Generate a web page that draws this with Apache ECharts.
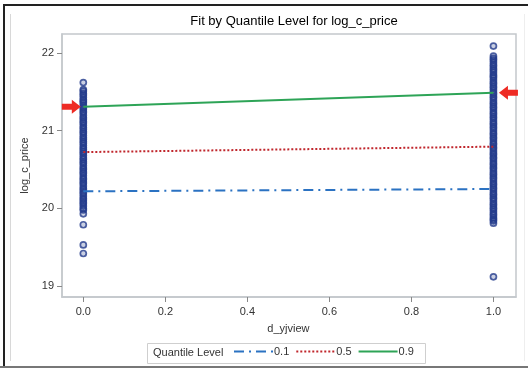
<!DOCTYPE html>
<html>
<head>
<meta charset="utf-8">
<script src="https://cdn.jsdelivr.net/npm/echarts@6/dist/echarts.min.js"></script>
<style>
  html, body { margin: 0; padding: 0; background: #fff; }
  #chart { width: 528px; height: 368px; }
</style>
</head>
<body>
<div id="chart"></div>
<script>
// tick labels
const xTicks = [0, 0.2, 0.4, 0.6, 0.8, 1.0]
const yTicks = [19, 20, 21, 22]

// observed log_c_price at d_yjview = 0
const obsAt0 = [21.62, 21.53, 21.51, 21.48, 21.46, 21.43, 21.40, 21.38, 21.36, 21.33, 21.30,
  21.28, 21.25, 21.23, 21.20, 21.17, 21.15, 21.12, 21.10, 21.07, 21.04, 21.02, 20.99, 20.97,
  20.94, 20.91, 20.89, 20.86, 20.84, 20.81, 20.78, 20.76, 20.73, 20.71, 20.68, 20.65, 20.63,
  20.60, 20.58, 20.55, 20.52, 20.50, 20.47, 20.45, 20.42, 20.39, 20.37, 20.34, 20.32, 20.29,
  20.26, 20.24, 20.21, 20.19, 20.16, 20.13, 20.11, 20.08, 20.06, 20.03, 20.00, 19.98,
  19.93, 19.79, 19.53, 19.42]

// observed log_c_price at d_yjview = 1
const obsAt1 = [22.09, 21.96, 21.93, 21.91, 21.88, 21.85, 21.83, 21.80, 21.78, 21.75, 21.72,
  21.70, 21.68, 21.65, 21.62, 21.60, 21.57, 21.55, 21.52, 21.49, 21.47, 21.44, 21.42, 21.39,
  21.36, 21.34, 21.31, 21.29, 21.26, 21.23, 21.21, 21.18, 21.16, 21.13, 21.10, 21.08, 21.05,
  21.03, 21.00, 20.97, 20.95, 20.92, 20.90, 20.87, 20.84, 20.82, 20.79, 20.77, 20.74, 20.71,
  20.69, 20.66, 20.64, 20.61, 20.58, 20.56, 20.53, 20.51, 20.48, 20.45, 20.43, 20.40, 20.38,
  20.35, 20.32, 20.30, 20.27, 20.25, 20.22, 20.19, 20.17, 20.14, 20.12, 20.09, 20.06, 20.04,
  20.01, 19.99, 19.96, 19.93, 19.91, 19.88, 19.86, 19.84, 19.81, 19.12]

// fitted quantile lines (value at x=0, x=1)
const q10 = [20.22, 20.25]
const q50 = [20.725, 20.795]
const q90 = [21.31, 21.49]

const scatterData = obsAt0.map(v => [0, v]).concat(obsAt1.map(v => [1, v]))

const font = 'Liberation Sans, Arial, sans-serif'
const arrowPath = 'path://M0,4 L10,4 L10,0 L19,7 L10,14 L10,10 L0,10 Z'
const frameColor = '#c4c8cc'

// plot frame in px and x range padding (SAS pads the data range)
const plotLeft = 62, plotRight = 516, plotTop = 34, plotBottom = 297
const xMin = -0.052, xMax = 1.055
const yMin = 18.86, yMax = 22.245
const pxPerUnit = (plotRight - plotLeft) / (xMax - xMin)
const tickLen = 5

const chart = echarts.init(document.getElementById('chart'))

const decorations = [
  { type: 'rect', shape: { x: 4, y: 5, width: 540, height: 400 }, style: { fill: 'none', stroke: '#222', lineWidth: 2 }, silent: true },
  { type: 'line', shape: { x1: 0, y1: 367, x2: 528, y2: 367 }, style: { stroke: '#777', lineWidth: 2 }, silent: true },
  { type: 'line', shape: { x1: 10.5, y1: 14, x2: 10.5, y2: 361 }, style: { stroke: '#d8d8d8', lineWidth: 1 }, silent: true },
  { type: 'line', shape: { x1: 524.5, y1: 14, x2: 524.5, y2: 361 }, style: { stroke: '#eeeeee', lineWidth: 1 }, silent: true },
  { type: 'rect', shape: { x: 147.5, y: 343.5, width: 278, height: 20 }, style: { fill: '#fff', stroke: '#cfcfcf', lineWidth: 1 }, silent: true, z: -1 },
  { type: 'text', left: 153, top: 347, style: { text: 'Quantile Level', font: '11px ' + font, fill: '#333' }, silent: true }
]

const option = {
  animation: false,
  title: {
    text: 'Fit by Quantile Level for log_c_price',
    left: 289,
    textAlign: 'center',
    top: 10,
    textStyle: { fontFamily: font, fontSize: 13, fontWeight: 'normal', color: '#000' }
  },
  grid: [
    {
      left: plotLeft,
      right: 528 - plotRight,
      top: plotTop,
      bottom: 368 - plotBottom,
      show: true,
      borderColor: frameColor,
      borderWidth: 1.5
    },
    {
      // same height, spanning exactly 0..1 — carries the x labels
      left: plotLeft - xMin * pxPerUnit,
      right: 528 - (plotLeft + (1 - xMin) * pxPerUnit),
      top: plotTop,
      bottom: 368 - plotBottom,
      show: false
    }
  ],
  xAxis: [
    {
      type: 'value',
      gridIndex: 0,
      min: xMin,
      max: xMax,
      axisLine: { show: true, onZero: false, lineStyle: { color: frameColor, width: 1.5 } },
      axisTick: { show: false },
      axisLabel: { show: false },
      splitLine: { show: false }
    },
    {
      type: 'value',
      gridIndex: 1,
      min: xTicks[0],
      max: xTicks[xTicks.length - 1],
      interval: 0.2,
      name: 'd_yjview',
      nameLocation: 'middle',
      nameGap: 26,
      nameTextStyle: { fontFamily: font, fontSize: 11, color: '#333' },
      axisLine: { show: false, onZero: false },
      axisTick: { show: false },
      axisLabel: {
        margin: 9,
        fontFamily: font,
        fontSize: 11,
        color: '#333',
        formatter: v => v.toFixed(1)
      },
      splitLine: { show: false }
    }
  ],
  yAxis: [
    {
      type: 'value',
      gridIndex: 0,
      min: yMin,
      max: yMax,
      name: 'log_c_price',
      nameLocation: 'middle',
      nameGap: 22,
      nameTextStyle: { fontFamily: font, fontSize: 11, color: '#333' },
      axisLine: { show: true, onZero: false, lineStyle: { color: frameColor, width: 1.5 } },
      axisTick: { show: true, customValues: yTicks, length: tickLen, lineStyle: { color: '#888' } },
      axisLabel: {
        customValues: yTicks,
        margin: 8,
        fontFamily: font,
        fontSize: 11,
        color: '#333'
      },
      splitLine: { show: false }
    },
    {
      type: 'value',
      gridIndex: 1,
      min: 0,
      max: 1,
      axisLine: { show: false },
      axisTick: { show: false },
      axisLabel: { show: false },
      splitLine: { show: false }
    }
  ],
  legend: {
    data: ['0.1', '0.5', '0.9'],
    left: 233,
    top: 346,
    itemWidth: 39,
    itemHeight: 10,
    itemGap: 6,
    padding: 0,
    itemStyle: { opacity: 0 },
    textStyle: { fontFamily: font, fontSize: 11, color: '#333', padding: [0, 0, 0, -4] }
  },
  graphic: decorations,
  series: [
    {
      name: 'obs',
      type: 'scatter',
      data: scatterData,
      symbol: 'circle',
      symbolSize: 6,
      itemStyle: { color: 'rgba(36,60,140,0.3)', borderColor: '#243c8c', borderWidth: 1.7 },
      z: 2
    },
    {
      name: '0.1',
      type: 'line',
      data: [[0, q10[0]], [1, q10[1]]],
      symbol: 'none',
      itemStyle: { color: '#2b72c2' },
      lineStyle: { color: '#2b72c2', width: 2, type: [10, 5, 2, 5] },
      z: 3
    },
    {
      name: '0.5',
      type: 'line',
      data: [[0, q50[0]], [1, q50[1]]],
      symbol: 'none',
      itemStyle: { color: '#c0262c' },
      lineStyle: { color: '#c0262c', width: 2, type: [2, 2] },
      z: 3
    },
    {
      name: '0.9',
      type: 'line',
      data: [[0, q90[0]], [1, q90[1]]],
      symbol: 'none',
      itemStyle: { color: '#2ea457' },
      lineStyle: { color: '#2ea457', width: 2 },
      z: 3,
      markPoint: {
        silent: true,
        label: { show: false },
        itemStyle: { color: '#ee2b24' },
        data: [
          { coord: [0, q90[0]], symbol: arrowPath, symbolSize: [19, 14], symbolOffset: [-12, 0] },
          { coord: [1, q90[1]], symbol: arrowPath, symbolSize: [19, 14], symbolRotate: 180, symbolOffset: [15, 0] }
        ]
      }
    }
  ]
}

chart.setOption(option)

// x tick marks: positions come from the main grid's scale
const tickMarks = xTicks.map(v => {
  const pt = chart.convertToPixel({ xAxisIndex: 0, yAxisIndex: 0 }, [v, yMin])
  const x = Math.round(pt[0]) + 0.5
  const y = Math.round(pt[1])
  return {
    type: 'line',
    silent: true,
    z: 10,
    shape: { x1: x, y1: y, x2: x, y2: y + tickLen },
    style: { stroke: '#888', lineWidth: 1 }
  }
})
chart.setOption({ graphic: decorations.concat(tickMarks) })
</script>
</body>
</html>
